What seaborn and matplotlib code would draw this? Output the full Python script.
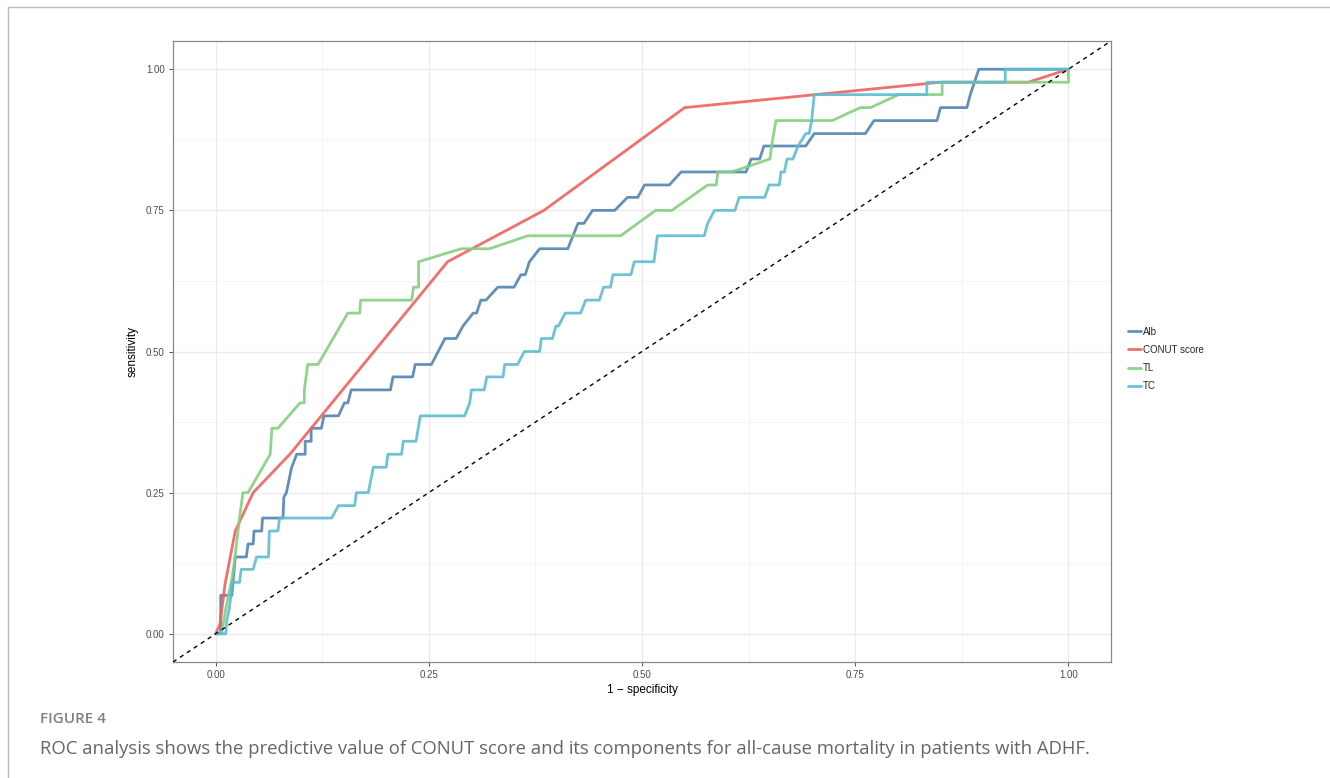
import matplotlib
matplotlib.use("Agg")
import matplotlib.pyplot as plt
from matplotlib.lines import Line2D
import numpy as np
import pandas as pd
import seaborn as sns

# ROC curve vertices (1 - specificity, sensitivity)
alb_x = [0, 0.006, 0.006, 0.019, 0.023, 0.036, 0.038, 0.044, 0.045, 0.054, 0.055, 0.079, 0.080,
         0.083, 0.089, 0.095, 0.105, 0.105, 0.112, 0.112, 0.124, 0.127, 0.144, 0.151, 0.155, 0.159,
         0.205, 0.208, 0.231, 0.234, 0.253, 0.261, 0.269, 0.282, 0.290, 0.302, 0.306, 0.311, 0.317,
         0.331, 0.350, 0.358, 0.363, 0.368, 0.380, 0.413, 0.419, 0.425, 0.432, 0.442, 0.468, 0.483,
         0.495, 0.503, 0.532, 0.546, 0.622, 0.628, 0.638, 0.643, 0.692, 0.702, 0.762, 0.772, 0.846,
         0.850, 0.881, 0.885, 0.895, 1.0]
alb_y = [0, 0, 0.068, 0.068, 0.136, 0.136, 0.159, 0.159, 0.182, 0.182, 0.205, 0.205, 0.242,
         0.250, 0.294, 0.318, 0.318, 0.341, 0.341, 0.364, 0.364, 0.386, 0.386, 0.409, 0.409, 0.432,
         0.432, 0.455, 0.455, 0.477, 0.477, 0.500, 0.523, 0.523, 0.545, 0.568, 0.568, 0.591, 0.591,
         0.614, 0.614, 0.636, 0.636, 0.659, 0.682, 0.682, 0.705, 0.727, 0.727, 0.750, 0.750, 0.773,
         0.773, 0.795, 0.795, 0.818, 0.818, 0.841, 0.841, 0.864, 0.864, 0.886, 0.886, 0.909, 0.909,
         0.932, 0.932, 0.955, 1.0, 1.0]

conut_x = [0, 0.005, 0.011, 0.023, 0.044, 0.087, 0.272, 0.385, 0.550, 0.850, 0.953, 1.0]
conut_y = [0, 0.016, 0.088, 0.182, 0.250, 0.318, 0.659, 0.750, 0.932, 0.977, 0.977, 1.0]

tl_x = [0, 0.007, 0.012, 0.019, 0.022, 0.028, 0.032, 0.038, 0.064, 0.066, 0.073, 0.099, 0.104,
        0.104, 0.108, 0.120, 0.155, 0.169, 0.170, 0.230, 0.232, 0.238, 0.238, 0.288, 0.321, 0.366,
        0.475, 0.516, 0.535, 0.577, 0.587, 0.589, 0.605, 0.650, 0.652, 0.657, 0.723, 0.756, 0.768,
        0.801, 0.852, 0.852, 1.0, 1.0]
tl_y = [0, 0, 0.045, 0.097, 0.127, 0.205, 0.250, 0.250, 0.318, 0.364, 0.364, 0.409, 0.409,
        0.432, 0.477, 0.477, 0.568, 0.568, 0.591, 0.591, 0.614, 0.614, 0.659, 0.682, 0.682, 0.705,
        0.705, 0.750, 0.750, 0.795, 0.795, 0.818, 0.818, 0.841, 0.864, 0.909, 0.909, 0.932, 0.932,
        0.955, 0.955, 0.977, 0.977, 1.0]

tc_x = [0, 0.012, 0.013, 0.016, 0.018, 0.019, 0.028, 0.030, 0.044, 0.048, 0.062, 0.063, 0.073,
        0.075, 0.136, 0.144, 0.163, 0.165, 0.179, 0.185, 0.200, 0.202, 0.218, 0.220, 0.235, 0.240,
        0.292, 0.298, 0.300, 0.315, 0.318, 0.337, 0.339, 0.354, 0.362, 0.380, 0.382, 0.395, 0.399,
        0.402, 0.410, 0.428, 0.434, 0.450, 0.455, 0.463, 0.466, 0.487, 0.491, 0.514, 0.518, 0.573,
        0.577, 0.585, 0.609, 0.614, 0.644, 0.649, 0.661, 0.663, 0.667, 0.670, 0.677, 0.683, 0.692,
        0.696, 0.699, 0.702, 0.834, 0.834, 0.926, 0.926, 1.0]
tc_y = [0, 0, 0.023, 0.045, 0.068, 0.091, 0.091, 0.114, 0.114, 0.136, 0.136, 0.182, 0.182,
        0.205, 0.205, 0.227, 0.227, 0.250, 0.250, 0.295, 0.295, 0.318, 0.318, 0.341, 0.341, 0.386,
        0.386, 0.409, 0.432, 0.432, 0.455, 0.455, 0.477, 0.477, 0.500, 0.500, 0.523, 0.523, 0.545,
        0.545, 0.568, 0.568, 0.591, 0.591, 0.614, 0.614, 0.636, 0.636, 0.659, 0.659, 0.705, 0.705,
        0.727, 0.750, 0.750, 0.773, 0.773, 0.795, 0.795, 0.818, 0.818, 0.841, 0.841, 0.864, 0.886,
        0.886, 0.909, 0.955, 0.955, 0.977, 0.977, 1.0, 1.0]

labels = ['Alb', 'CONUT score', 'TL', 'TC']
colors = ['#5284B4', '#F0605D', '#84CF7F', '#5DBDD1']

frames = []
for lab, xs, ys in zip(labels, [alb_x, conut_x, tl_x, tc_x], [alb_y, conut_y, tl_y, tc_y]):
    frames.append(pd.DataFrame({'fpr': xs, 'tpr': ys, 'marker': lab, 'order': np.arange(len(xs))}))
df = pd.concat(frames, ignore_index=True)

sns.set_theme(style='white')
plt.rcParams['font.family'] = ['Liberation Sans', 'DejaVu Sans']

fig = plt.figure(figsize=(13.3, 7.78), dpi=100)
ax = fig.add_axes([173 / 1330, 1 - 662 / 778, (1111 - 173) / 1330, (662 - 41) / 778])

# grid like theme_bw
for v in [0.125, 0.375, 0.625, 0.875]:
    ax.axvline(v, color='#F4F4F4', lw=0.6, zorder=0)
    ax.axhline(v, color='#F4F4F4', lw=0.6, zorder=0)
for v in [0, 0.25, 0.5, 0.75, 1.0]:
    ax.axvline(v, color='#EBEBEB', lw=1.0, zorder=0)
    ax.axhline(v, color='#EBEBEB', lw=1.0, zorder=0)

sns.lineplot(data=df, x='fpr', y='tpr', hue='marker', hue_order=labels, palette=colors,
             sort=False, estimator=None, units='marker', lw=2.0, alpha=0.9, ax=ax)

ax.axline((0, 0), slope=1, color='black', lw=1.0, ls=(0, (3, 3)), zorder=5)

ax.set_xlim(-0.05, 1.05)
ax.set_ylim(-0.05, 1.05)
ticks = [0, 0.25, 0.5, 0.75, 1.0]
ax.set_xticks(ticks)
ax.set_yticks(ticks)
ax.set_xticklabels(['0.00', '0.25', '0.50', '0.75', '1.00'])
ax.set_yticklabels(['0.00', '0.25', '0.50', '0.75', '1.00'])
ax.tick_params(axis='both', length=3, width=0.7, color='#555555', labelsize=7,
               labelcolor='#4D4D4D', pad=3, direction='out', bottom=True, left=True)
for s in ax.spines.values():
    s.set_color('#888888')
    s.set_linewidth(0.9)
ax.set_xlabel('1 − specificity', fontsize=8.5, color='black', labelpad=3)
ax.set_ylabel('sensitivity', fontsize=8.5, color='black', labelpad=5)

handles = [Line2D([0], [0], color=c, lw=2.0, alpha=0.9) for c in colors]
ax.legend(handles, labels, loc='center left', bbox_to_anchor=(1128 / 1330, 1 - 359 / 778),
          bbox_transform=fig.transFigure, frameon=False, fontsize=7, handlelength=1.35,
          handletextpad=0.2, labelspacing=0.85, borderpad=0, borderaxespad=0)

# page frame
fig.add_artist(Line2D([8 / 1330, 1], [1 - 7 / 778, 1 - 7 / 778], color='#BBBBBB', lw=1.0))
fig.add_artist(Line2D([8 / 1330, 8 / 1330], [0, 1 - 7 / 778], color='#BBBBBB', lw=1.0))

fig.text(40 / 1330, 1 - 719 / 778, 'FIGURE 4', fontsize=11, color='#808080', fontweight='semibold',
         family=['Open Sans', 'DejaVu Sans'], va='center', ha='left')
fig.text(40 / 1330, 1 - 749 / 778,
         'ROC analysis shows the predictive value of CONUT score and its components for all-cause mortality in patients with ADHF.',
         fontsize=13.35, color='#666666', family=['Open Sans', 'DejaVu Sans'], va='center', ha='left')

fig.savefig('out.png', dpi=100)
